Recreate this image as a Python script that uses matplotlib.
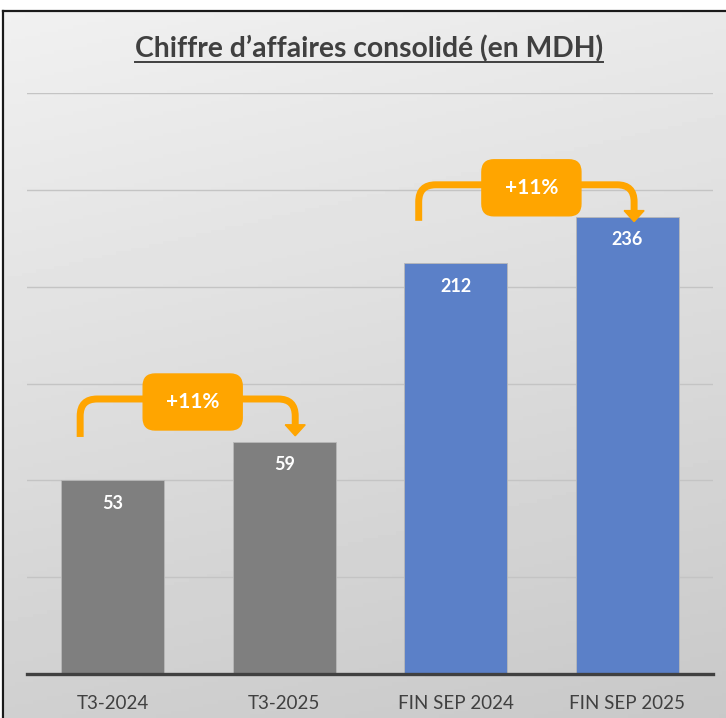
import matplotlib.pyplot as plt
import numpy as np
from matplotlib.patches import FancyBboxPatch, PathPatch, Polygon
from matplotlib.path import Path
from matplotlib.transforms import IdentityTransform
from matplotlib.lines import Line2D

categories = ["T3-2024", "T3-2025", "FIN SEP 2024", "FIN SEP 2025"]
value_labels = [53, 59, 212, 236]
# heights as drawn in the chart, read against the gridlines (step 50)
bar_heights = [100, 120, 212, 236]
bar_colors = ["#7f7f7f", "#7f7f7f", "#5b80c8", "#5b80c8"]
growth_labels = ["+11%", "+11%"]
growth_pairs = [(0, 1), (2, 3)]

ORANGE = "#ffa500"
TEXT = "#404040"
FONT = "Lato"

W, H = 726, 718
fig = plt.figure(figsize=(W / 100, H / 100), dpi=100)

# background: light grey gradient, cropped frame top/left
bg = fig.add_axes([0, 0, 1, 1], zorder=-10)
yy, xx = np.mgrid[0:1:200j, 0:1:200j]
shade = 0.945 - 0.13 * yy - 0.03 * xx
bg.imshow(shade, cmap="gray", vmin=0, vmax=1, extent=[0, W, H, 0], aspect="auto")
bg.fill_between([0, W], 0, 11, color="white")
bg.fill_betweenx([0, H], 0, 3, color="white")
bg.plot([3, W], [11, 11], color="#1a1a1a", lw=1.6)
bg.plot([3, 3], [11, H], color="#1a1a1a", lw=1.6)
bg.set_xlim(0, W)
bg.set_ylim(H, 0)
bg.axis("off")

ax = fig.add_axes([27 / W, (H - 674) / H, (713 - 27) / W, (674 - 93) / H])
ax.set_facecolor("none")
x = np.arange(len(categories))
ax.bar(x, bar_heights, width=0.6, color=bar_colors, edgecolor="#b8b8b8",
       linewidth=0.6, zorder=2)
ax.set_xlim(-0.5, 3.5)
ax.set_ylim(0, 300)
ax.set_yticks(np.arange(50, 301, 50))
ax.yaxis.grid(True, color="#c4c4c4", lw=1.0, zorder=0)
ax.set_axisbelow(True)
ax.tick_params(axis="y", length=0, labelleft=False)
ax.set_xticks(x, categories)
ax.tick_params(axis="x", length=0, pad=15, labelsize=13.5, labelcolor=TEXT)
for lab in ax.get_xticklabels():
    lab.set_fontfamily(FONT)
for s in ["top", "right", "left"]:
    ax.spines[s].set_visible(False)
ax.spines["bottom"].set_color(TEXT)
ax.spines["bottom"].set_linewidth(2.4)
ax.spines["bottom"].set_zorder(3)

for xi, h, v in zip(x, bar_heights, value_labels):
    ax.annotate(str(v), (xi, h), xytext=(0, -16.5), textcoords="offset points",
                ha="center", va="center", color="white", fontsize=13,
                fontweight="bold", fontfamily=FONT, zorder=4)

# growth connectors (pixel layout)
fig.canvas.draw()
to_px = ax.transData.transform
r = 17
head_w, head_h = 20, 11
layout = [
    dict(x0=-0.19, x1=0.064, start=122.4, line=142.0, tip=123.0),
    dict(x0=-0.216, x1=0.04, start=234.0, line=252.6, tip=233.6),
]
for label, (a, b), lay in zip(growth_labels, growth_pairs, layout):
    xa, ys = to_px((a + lay["x0"], lay["start"]))
    xb, yl = to_px((b + lay["x1"], lay["line"]))
    _, yt = to_px((b, lay["tip"]))
    verts = [(xa, ys), (xa, yl - r), (xa, yl), (xa + r, yl),
             (xb - r, yl), (xb, yl), (xb, yl - r), (xb, yt + head_h)]
    codes = [Path.MOVETO, Path.LINETO, Path.CURVE3, Path.CURVE3,
             Path.LINETO, Path.CURVE3, Path.CURVE3, Path.LINETO]
    fig.add_artist(PathPatch(Path(verts, codes), fill=False, edgecolor=ORANGE,
                             lw=5, capstyle="butt", joinstyle="round",
                             transform=IdentityTransform()))
    fig.add_artist(Polygon([(xb - head_w / 2, yt + head_h), (xb + head_w / 2, yt + head_h),
                            (xb, yt)], closed=True, color=ORANGE,
                           transform=IdentityTransform()))
    cx = (xa + xb) / 2 + 5
    cy = yl - 3
    bw, bh = 99, 56
    fig.add_artist(FancyBboxPatch((cx - bw / 2 + 12, cy - bh / 2 + 12), bw - 24, bh - 24,
                                  boxstyle="round,pad=12", color=ORANGE,
                                  transform=IdentityTransform()))
    fig.text(cx / W, cy / H, label, ha="center", va="center", color="white",
             fontsize=15, fontweight="bold", fontfamily=FONT)

title = fig.text(369 / W, 1 - 57 / H, "Chiffre d\u2019affaires consolid\u00e9 (en MDH)",
                 ha="center", va="baseline", color=TEXT, fontsize=20.3,
                 fontweight="bold", fontfamily=FONT)
fig.canvas.draw()
bb = title.get_window_extent()
fig.add_artist(Line2D([bb.x0, bb.x1], [H - 62, H - 62], color=TEXT, lw=1.4,
                      transform=IdentityTransform()))

fig.savefig("out.png", dpi=100)
